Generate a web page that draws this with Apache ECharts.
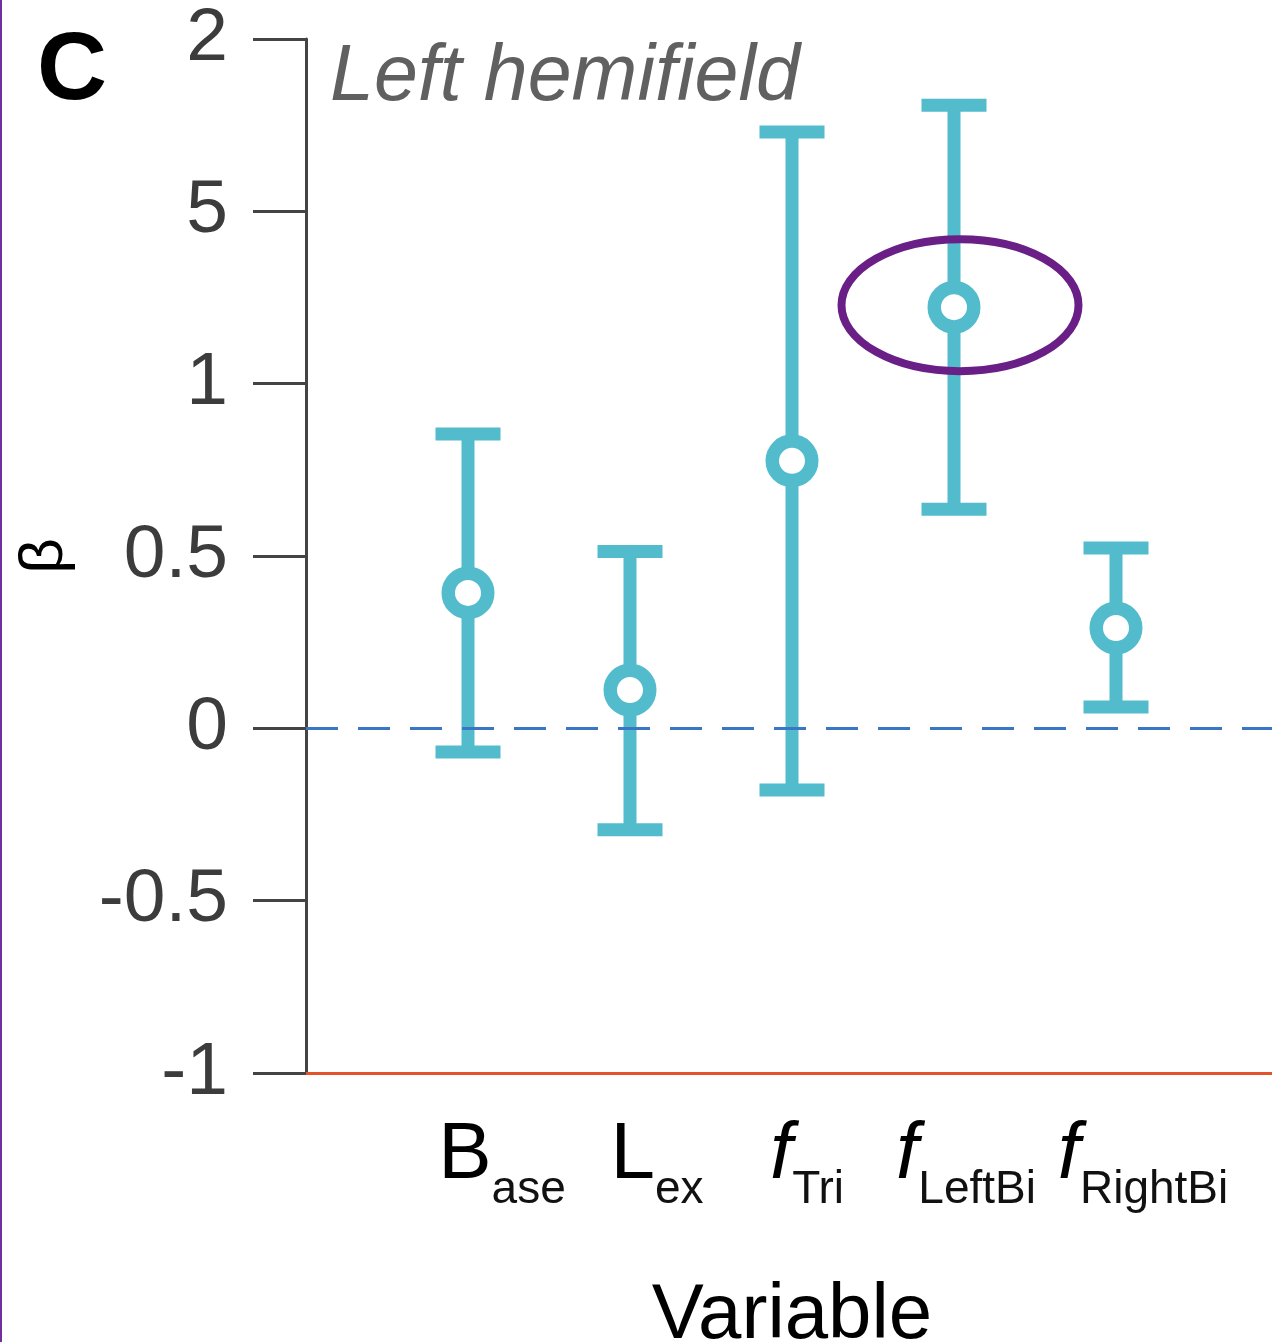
<!DOCTYPE html>
<html>
<head>
<meta charset="utf-8">
<title>Left hemifield</title>
<script src="https://cdn.jsdelivr.net/npm/echarts@6/dist/echarts.min.js"></script>
<style>
  html, body { margin: 0; padding: 0; background: #fff; }
  #chart { width: 1272px; height: 1342px; }
</style>
</head>
<body>
<div id="chart"></div>
<script>
// categories and estimates
var categories = ["Base", "Lex", "fTri", "fLeftBi", "fRightBi"];
var labelMain = ["B", "L", "f", "f", "f"];
var labelSub = ["ase", "ex", "Tri", "LeftBi", "RightBi"];
var betaMean = [0.393, 0.111, 0.776, 1.222, 0.291];
var betaLow = [-0.069, -0.294, -0.179, 0.636, 0.062];
var betaHigh = [0.854, 0.513, 1.730, 1.808, 0.523];
var highlighted = ["fLeftBi"];
// tick labels as printed in the figure (the 1.5 tick reads "5")
var yTickValues = [-1, -0.5, 0, 0.5, 1, 1.5, 2];
var yTickLabels = ["-1", "-0.5", "0", "0.5", "1", "5", "2"];

var TEAL = "#52bccc";
var PURPLE = "#6a1f87";

// axis data padded with an empty slot at each end
var axisCats = [""].concat(categories).concat([""]);

var barData = categories.map(function (c, i) {
  return [i + 1, betaMean[i], betaLow[i], betaHigh[i]];
});
var ringData = highlighted.map(function (c) {
  var i = categories.indexOf(c);
  return [i + 1, betaMean[i]];
});

// small nudges so the labels sit like in the figure
var labelNudge = [34, 27, 15, 12, 27];
var rich = {
  m: { fontSize: 80, lineHeight: 80, verticalAlign: "top", color: "#000", fontFamily: "Liberation Sans" },
  f: { fontSize: 80, lineHeight: 80, verticalAlign: "top", color: "#000", fontStyle: "italic", fontFamily: "Liberation Sans" },
  s: { fontSize: 46, lineHeight: 46, verticalAlign: "top", padding: [51, 0, 0, 0], color: "#111", fontFamily: "Liberation Sans" }
};
labelNudge.forEach(function (n, i) {
  rich["p" + i] = { width: 2 * n, fontSize: 10 };
});

var myChart = echarts.init(document.getElementById("chart"));
myChart.setOption({
  backgroundColor: "#fff",
  animation: false,
  grid: { left: 306, top: 39, width: 972, height: 1034, outerBoundsMode: "none", containLabel: false },
  graphic: [
    { type: "rect", left: 0, top: 0, shape: { width: 2, height: 1342 }, style: { fill: "#7030a0" } },
    { type: "text", left: 37, top: 24, style: { text: "C", font: "bold 97px 'Liberation Sans'", fill: "#000" } },
    { type: "text", left: 330, top: 39, style: { text: "Left hemifield", font: "italic 79px 'Liberation Sans'", fill: "#606060" } }
  ],
  xAxis: {
    type: "category",
    data: axisCats,
    boundaryGap: false,
    name: "Variable",
    nameLocation: "middle",
    nameGap: 204,
    nameTextStyle: { fontSize: 78, color: "#000", fontFamily: "Liberation Sans" },
    axisLine: { onZero: false, lineStyle: { color: "#e2522b", width: 3 } },
    axisTick: { show: false },
    axisLabel: {
      interval: 0,
      margin: 43,
      rich: rich,
      formatter: function (value) {
        var i = categories.indexOf(value);
        if (i < 0) return "";
        var mainStyle = labelMain[i] === "f" ? "f" : "m";
        return "{p" + i + "| }{" + mainStyle + "|" + labelMain[i] + "}{s|" + labelSub[i] + "}";
      }
    },
    splitLine: { show: false }
  },
  yAxis: {
    type: "value",
    min: -1,
    max: 2,
    interval: 0.5,
    name: "β",
    nameLocation: "middle",
    nameRotate: 90,
    nameGap: 230,
    nameTextStyle: { fontSize: 62, color: "#000", fontFamily: "Liberation Sans" },
    axisLine: { show: true, onZero: false, lineStyle: { color: "#444", width: 3 } },
    axisTick: { show: true, length: 53, lineStyle: { color: "#444", width: 3 } },
    axisLabel: {
      margin: 78,
      fontSize: 75,
      color: "#3c3c3c",
      fontFamily: "Liberation Sans",
      formatter: function (v) {
        var i = yTickValues.indexOf(v);
        return i < 0 ? "" : yTickLabels[i];
      }
    },
    splitLine: { show: false }
  },
  series: [
    {
      type: "custom",
      name: "beta",
      data: barData,
      encode: { x: 0, y: [1, 2, 3] },
      z: 3,
      renderItem: function (params, api) {
        var x = api.value(0);
        var mid = api.coord([x, api.value(1)]);
        var lo = api.coord([x, api.value(2)]);
        var hi = api.coord([x, api.value(3)]);
        var cap = 32.5;
        var st = { stroke: TEAL, lineWidth: 13, fill: null };
        return {
          type: "group",
          children: [
            { type: "line", shape: { x1: hi[0], y1: hi[1], x2: lo[0], y2: lo[1] }, style: st },
            { type: "line", shape: { x1: hi[0] - cap, y1: hi[1], x2: hi[0] + cap, y2: hi[1] }, style: st },
            { type: "line", shape: { x1: lo[0] - cap, y1: lo[1], x2: lo[0] + cap, y2: lo[1] }, style: st },
            { type: "circle", shape: { cx: mid[0], cy: mid[1], r: 19.75 }, style: { fill: "#fff", stroke: TEAL, lineWidth: 13.5 } }
          ]
        };
      },
      markLine: {
        silent: true,
        symbol: "none",
        label: { show: false },
        lineStyle: { color: "#3a76c6", width: 3, type: [32, 20] },
        data: [{ yAxis: 0 }]
      }
    },
    {
      type: "custom",
      name: "highlight",
      data: ringData,
      encode: { x: 0, y: 1 },
      z: 4,
      renderItem: function (params, api) {
        var p = api.coord([api.value(0), api.value(1)]);
        var cx = p[0] + 6, cy = p[1] - 2, rx = 118.5, ry = 66;
        var d = "M" + (cx - rx) + " " + cy +
          " A" + rx + " " + ry + " 0 1 0 " + (cx + rx) + " " + cy +
          " A" + rx + " " + ry + " 0 1 0 " + (cx - rx) + " " + cy + " Z";
        return {
          type: "path",
          shape: { pathData: d },
          style: { fill: null, stroke: PURPLE, lineWidth: 8 }
        };
      }
    }
  ]
});
</script>
</body>
</html>
